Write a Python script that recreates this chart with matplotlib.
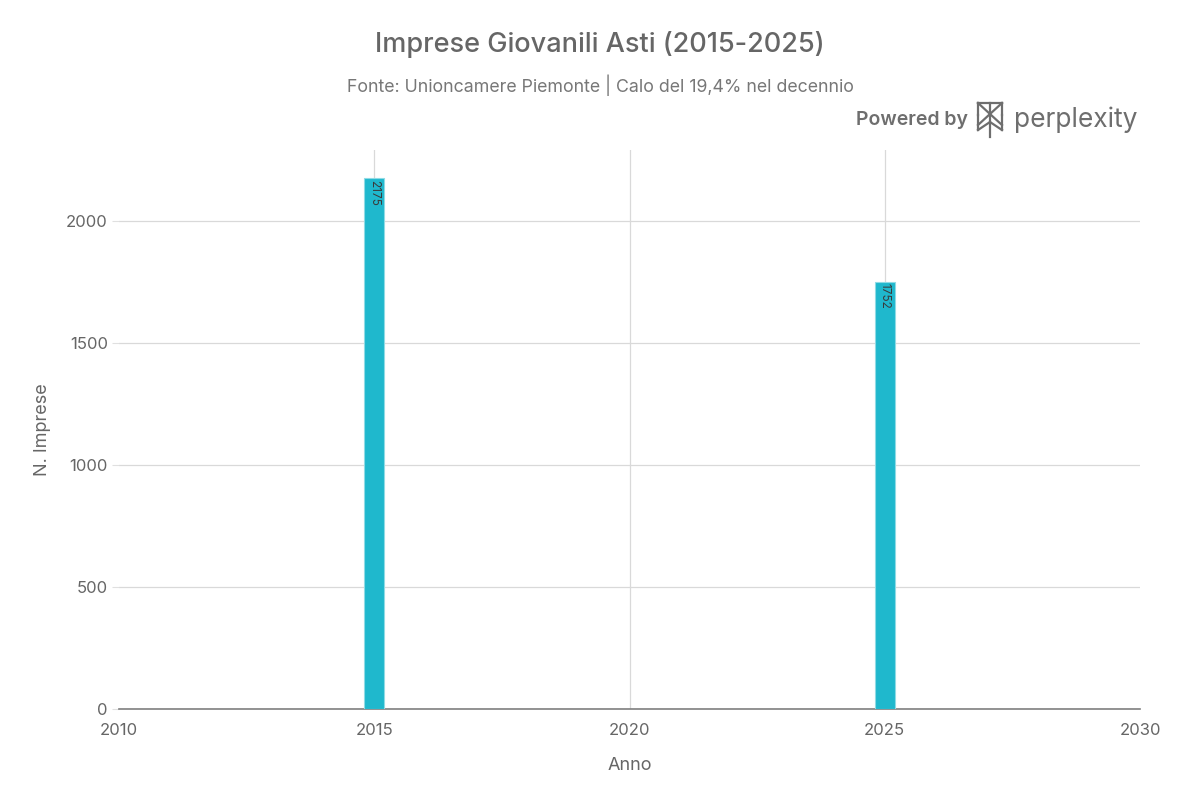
import matplotlib
matplotlib.use("Agg")
import matplotlib.pyplot as plt
from matplotlib.lines import Line2D

plt.rcParams['font.family'] = ['Inter', 'DejaVu Sans']

years = [2015, 2025]
imprese = [2175, 1752]
x_ticks = [2010, 2015, 2020, 2025, 2030]
y_ticks = [0, 500, 1000, 1500, 2000]

title = "Imprese Giovanili Asti (2015-2025)"
subtitle = "Fonte: Unioncamere Piemonte | Calo del 19,4% nel decennio"

fig = plt.figure(figsize=(12, 8), dpi=100)
ax = fig.add_axes([119/1200, 1-709/800, (1140-119)/1200, (709-150)/800])

bars = ax.bar(years, imprese, width=0.4, color='#1FB8CD', edgecolor='#8fdbe5', linewidth=0.8, zorder=3)
for x, v in zip(years, imprese):
    ax.text(x, v - 8, str(v), rotation=270, ha='center', va='top', fontsize=8.5, color='#3a3a3a', zorder=4)

ax.set_xlim(2010, 2030)
ax.set_ylim(0, 2291)
ax.set_xticks(x_ticks)
ax.set_yticks(y_ticks)
ax.grid(True, axis='y', color='#d9d9d9', linewidth=0.9, zorder=0)
for xt in x_ticks[1:-1]:
    ax.axvline(xt, color='#d9d9d9', linewidth=0.9, zorder=0)
for s in ['top', 'right', 'left']:
    ax.spines[s].set_visible(False)
ax.spines['bottom'].set_color('#7f7f7f')
ax.spines['bottom'].set_linewidth(1.2)
ax.tick_params(axis='x', length=0, pad=10, labelsize=12, labelcolor='#666666')
ax.tick_params(axis='y', length=5, color='#e0e0e0', pad=3, labelsize=12, labelcolor='#666666')
ax.set_xlabel('Anno', fontsize=13, color='#666666', labelpad=14)
ax.set_ylabel('N. Imprese', fontsize=13, color='#666666', labelpad=11)

fig.text(0.5, 1-45/800, title, ha='center', va='center', fontsize=19.5, color='#666666', fontweight='medium')
fig.text(0.5, 1-85/800, subtitle, ha='center', va='center', fontsize=12.8, color='#777777')

# Powered by perplexity
fig.text(968/1200, 1-120/800, 'Powered by', ha='right', va='center', fontsize=14, color='#6e6e6e', fontweight='semibold')
fig.text(1138/1200, 1-120/800, 'perplexity', ha='right', va='center', fontsize=19, color='#6e6e6e')
# simple logo glyph
cx, cy = 990, 120
segs = [((cx-12, cy-17), (cx+12, cy-17)), ((cx, cy-17), (cx, cy+17)),
        ((cx-12, cy-17), (cx+12, cy+5)), ((cx+12, cy-17), (cx-12, cy+5)),
        ((cx-12, cy-5), (cx-12, cy+10)), ((cx+12, cy-5), (cx+12, cy+10)),
        ((cx-12, cy+10), (cx, cy+2)), ((cx+12, cy+10), (cx, cy+2)),
        ((cx-12, cy-17), (cx-12, cy-5)), ((cx+12, cy-17), (cx+12, cy-5))]
for (x0, y0), (x1, y1) in segs:
    fig.add_artist(Line2D([x0/1200, x1/1200], [1-y0/800, 1-y1/800], color='#6e6e6e', linewidth=1.6))

fig.savefig('out.png', dpi=100)
